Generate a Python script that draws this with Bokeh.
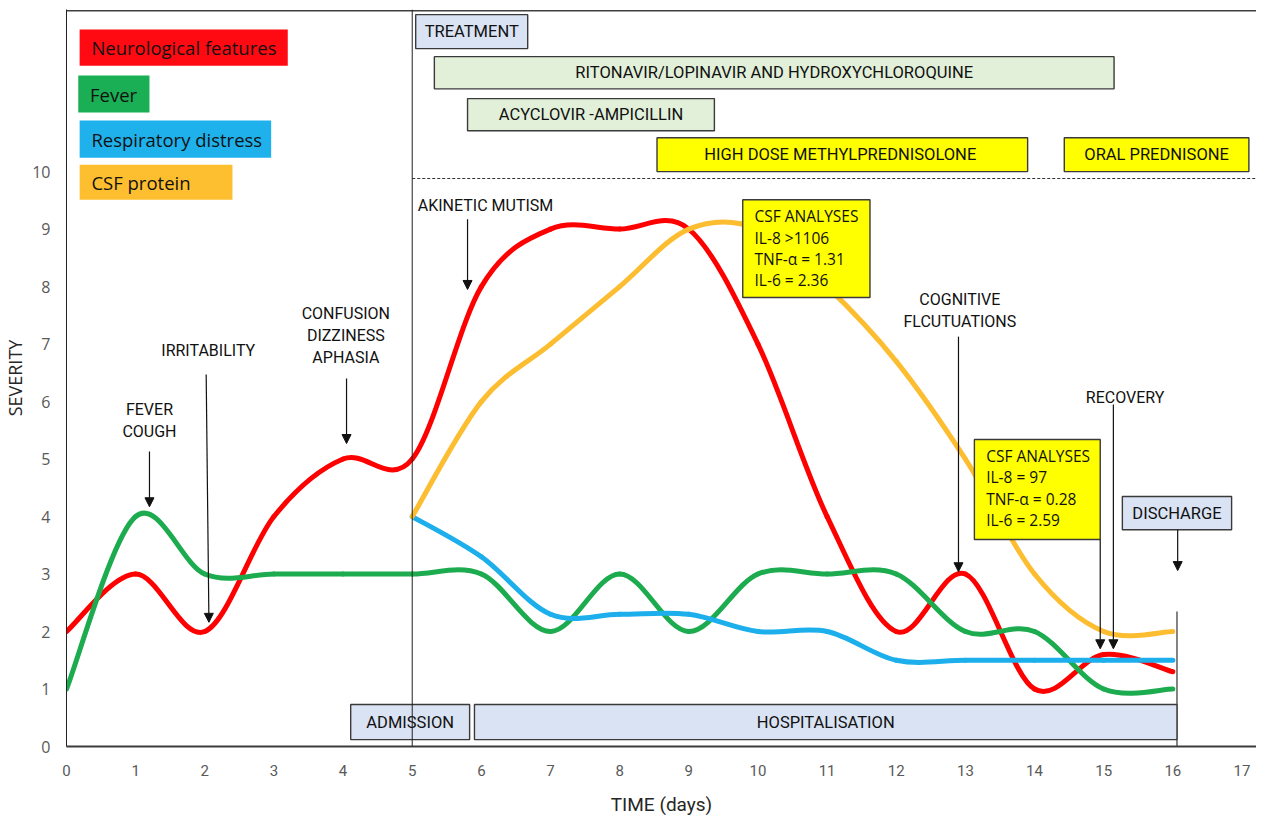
from bokeh.plotting import figure
from bokeh.models import Range1d, FixedTicker, Span, Arrow, NormalHead, ColumnDataSource
from bokeh.core.properties import value
from bokeh.embed import file_html
from bokeh.resources import INLINE

# ---------------- data ----------------
DAYS = list(range(0, 17))
NEURO = [2, 3, 2, 4, 5, 5, 8, 9, 9, 9, 7, 4, 2, 3, 1, 1.6, 1.3]
FEVER = [1, 4, 3, 3, 3, 3, 3, 2, 3, 2, 3, 3, 3, 2, 2, 1, 1]
HOSP_DAYS = list(range(5, 17))
RESP = [4, 3.3, 2.3, 2.3, 2.3, 2, 2, 1.5, 1.5, 1.5, 1.5, 1.5]
CSF = [4, 6, 7, 8, 9, 9, 8, 6.7, 5, 3, 2, 2]

X_TICKS = list(range(0, 18))
Y_TICKS = list(range(0, 11))

SERIES_NAMES = ["Neurological features", "Fever", "Respiratory distress", "CSF protein"]
SERIES_COLORS = ["#FF0000", "#1DAB4F", "#1CAFEB", "#FDBD30"]
LEGEND_FILL = ["#FF0A12", "#1AAF54", "#1FB1EC", "#FDBF2F"]

TREAT_LABELS = ["TREATMENT", "RITONAVIR/LOPINAVIR AND HYDROXYCHLOROQUINE",
                "ACYCLOVIR -AMPICILLIN", "HIGH DOSE  METHYLPREDNISOLONE", "ORAL PREDNISONE",
                "ADMISSION", "HOSPITALISATION", "DISCHARGE"]
EVENT_LABELS = [["FEVER", "COUGH"], ["IRRITABILITY"], ["CONFUSION", "DIZZINESS", "APHASIA"],
                ["AKINETIC MUTISM"], ["COGNITIVE", "FLCUTUATIONS"], ["RECOVERY"]]
CSF_BOX1 = ["CSF ANALYSES", "IL-8 >1106", "TNF-\u03b1 = 1.31", "IL-6 =  2.36"]
CSF_BOX2 = ["CSF ANALYSES", "IL-8 = 97", "TNF-\u03b1 = 0.28", "IL-6 =  2.59"]

NARROW = "Roboto"
SANS = "Open Sans"

X_END = 17.21
Y_END = 12.82

# ---------------- figure ----------------
p = figure(width=1256, height=818, x_range=Range1d(0, X_END), y_range=Range1d(0, Y_END),
           output_backend="svg", toolbar_location=None,
           min_border_left=64, min_border_right=0, min_border_top=9, min_border_bottom=72)
p.xgrid.visible = False
p.ygrid.visible = False
p.outline_line_color = None
p.background_fill_color = "white"

p.xaxis.ticker = FixedTicker(ticks=X_TICKS)
p.xaxis.major_tick_line_color = None
p.xaxis.minor_tick_line_color = None
p.xaxis.major_tick_out = 0
p.xaxis.major_tick_in = 0
p.xaxis.axis_line_color = "#3c3c3c"
p.xaxis.axis_line_width = 2
p.xaxis.major_label_text_font = NARROW
p.xaxis.major_label_text_font_size = "15px"
p.xaxis.major_label_text_color = "#595959"
p.xaxis.major_label_standoff = 18
p.xaxis.axis_label = "TIME (days)"
p.xaxis.axis_label_text_font = NARROW
p.xaxis.axis_label_text_font_style = "normal"
p.xaxis.axis_label_text_font_size = "19px"
p.xaxis.axis_label_text_color = "#262626"
p.xaxis.axis_label_standoff = 14

p.yaxis.ticker = FixedTicker(ticks=Y_TICKS)
p.yaxis.major_tick_line_color = None
p.yaxis.minor_tick_line_color = None
p.yaxis.major_tick_out = 0
p.yaxis.major_tick_in = 0
p.yaxis.axis_line_color = "#222222"
p.yaxis.axis_line_width = 1
p.yaxis.major_label_text_font = SANS
p.yaxis.major_label_text_font_size = "16px"
p.yaxis.major_label_text_color = "#595959"
p.yaxis.major_label_standoff = 16
p.yaxis.axis_label = "SEVERITY"
p.yaxis.axis_label_text_font = SANS
p.yaxis.axis_label_text_font_style = "normal"
p.yaxis.axis_label_text_font_size = "18px"
p.yaxis.axis_label_text_color = "#262626"
p.yaxis.axis_label_standoff = 2


# ---------------- smooth series (Bezier segments through the data points) ----------------
def smooth(xs, ys):
    n = len(xs)
    d = dict(x0=[], y0=[], x1=[], y1=[], cx0=[], cy0=[], cx1=[], cy1=[])
    for i in range(n - 1):
        a = max(i - 1, 0)
        b = min(i + 2, n - 1)
        d["x0"].append(xs[i]); d["y0"].append(ys[i])
        d["x1"].append(xs[i + 1]); d["y1"].append(ys[i + 1])
        d["cx0"].append(xs[i] + (xs[i + 1] - xs[a]) / 6.0)
        d["cy0"].append(ys[i] + (ys[i + 1] - ys[a]) / 6.0)
        d["cx1"].append(xs[i + 1] - (xs[b] - xs[i]) / 6.0)
        d["cy1"].append(ys[i + 1] - (ys[b] - ys[i]) / 6.0)
    return ColumnDataSource(d)


for xs, ys, col in [(DAYS, NEURO, SERIES_COLORS[0]), (DAYS, FEVER, SERIES_COLORS[1]),
                    (HOSP_DAYS, RESP, SERIES_COLORS[2]), (HOSP_DAYS, CSF, SERIES_COLORS[3])]:
    p.bezier(x0="x0", y0="y0", x1="x1", y1="y1", cx0="cx0", cy0="cy0", cx1="cx1", cy1="cy1",
             source=smooth(xs, ys), line_color=col, line_width=5, line_cap="round")

# ---------------- frame decorations ----------------
p.add_layout(Span(location=Y_END - 0.02, dimension="width", line_color="#404040", line_width=1.5))
p.add_layout(Span(location=5, dimension="height", line_color="#222222", line_width=1))
p.segment(x0=[5], y0=[9.88], x1=[X_END], y1=[9.88], line_color="#333333", line_width=1, line_dash="3 2")
p.segment(x0=[16.06], y0=[0], x1=[16.06], y1=[2.35], line_color="#333333", line_width=1.2)

# ---------------- legend boxes ----------------
LEG_POS = [(0.19, 3.20, 11.84, 12.47), (0.17, 1.20, 11.03, 11.67),
           (0.19, 2.96, 10.24, 10.89), (0.19, 2.40, 9.51, 10.12)]
for (l, r, b, t), name, fill in zip(LEG_POS, SERIES_NAMES, LEGEND_FILL):
    p.quad(left=[l], right=[r], bottom=[b], top=[t], fill_color=fill, line_color=None)
    p.text(x=[l + 0.17], y=[(b + t) / 2], text=[name], text_font=value(SANS),
           text_font_size="18.5px", text_color="#111111", text_align="left", text_baseline="middle")

# ---------------- treatment / stay boxes ----------------
BOX_POS = [(5.05, 6.67, 12.14, 12.73), (5.32, 15.15, 11.44, 12.00), (5.80, 9.37, 10.71, 11.27),
           (8.54, 13.90, 10.00, 10.59), (14.43, 17.10, 10.00, 10.59),
           (4.11, 5.83, 0.12, 0.73), (5.90, 16.06, 0.12, 0.73), (15.27, 16.85, 3.77, 4.35)]
BOX_FILL = ["#DAE3F3", "#E2F0D9", "#E2F0D9", "#FFFF00", "#FFFF00", "#DAE3F3", "#DAE3F3", "#DAE3F3"]
for (l, r, b, t), lab, fill in zip(BOX_POS, TREAT_LABELS, BOX_FILL):
    p.quad(left=[l], right=[r], bottom=[b], top=[t], fill_color=fill, line_color="#3a3a3a", line_width=1.4)
    p.text(x=[(l + r) / 2], y=[(b + t) / 2], text=[lab], text_font=value(NARROW),
           text_font_size="16.5px", text_color="#111111", text_align="center", text_baseline="middle")

# ---------------- CSF analyses boxes ----------------
for (l, r, b, t), lines in [((9.78, 11.62, 7.81, 9.51), CSF_BOX1), ((13.13, 14.95, 3.60, 5.34), CSF_BOX2)]:
    p.quad(left=[l], right=[r], bottom=[b], top=[t], fill_color="#FFFF00", line_color="#3a3a3a", line_width=1.4)
    ys = [t - 0.29 - 0.37 * k for k in range(len(lines))]
    p.text(x=[l + 0.17] * len(lines), y=ys, text=lines, text_font=value(SANS),
           text_font_size="15.5px", text_color="#111111", text_align="left", text_baseline="middle")

# ---------------- event annotations ----------------
EVENT_POS = [(1.20, 5.86), (2.05, 6.89), (4.04, 7.53), (6.06, 9.41), (12.92, 7.77), (15.31, 6.07)]
for (x, y), lines in zip(EVENT_POS, EVENT_LABELS):
    p.text(x=[x] * len(lines), y=[y - 0.38 * k for k in range(len(lines))], text=lines,
           text_font=value(NARROW), text_font_size="16px", text_color="#111111",
           text_align="center", text_baseline="middle")

ARROWS = [(1.20, 5.13, 1.20, 4.17), (2.02, 6.47, 2.06, 2.16), (4.05, 6.40, 4.05, 5.27),
          (5.80, 9.17, 5.80, 7.95), (12.90, 7.13, 12.90, 3.04), (15.14, 5.95, 15.14, 1.70),
          (14.95, 3.60, 14.95, 1.70), (16.07, 3.77, 16.07, 3.06)]
for xs_, ys_, xe, ye in ARROWS:
    p.add_layout(Arrow(end=NormalHead(size=9, fill_color="#111111", line_color="#111111", line_width=1),
                       x_start=xs_, y_start=ys_, x_end=xe, y_end=ye,
                       line_color="#111111", line_width=1.2))

open("out.html", "w").write(file_html(p, INLINE))
